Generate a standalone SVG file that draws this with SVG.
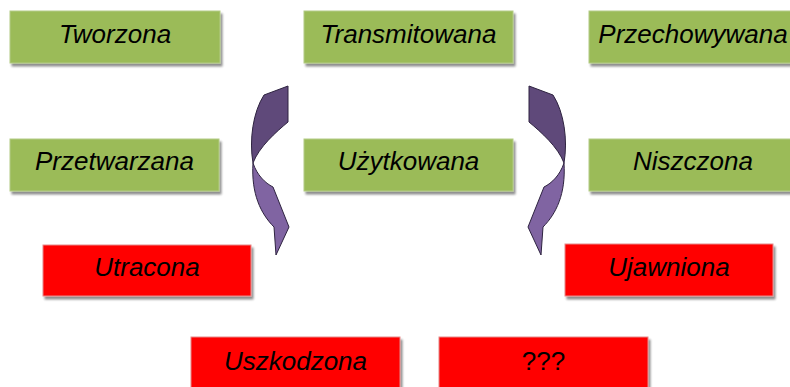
<svg xmlns="http://www.w3.org/2000/svg" width="790" height="387" viewBox="0 0 790 387">
<defs>
<filter id="sh" x="-10%" y="-20%" width="120%" height="150%">
<feGaussianBlur in="SourceAlpha" stdDeviation="1.2"/>
<feOffset dx="2" dy="3" result="b"/>
<feComponentTransfer><feFuncA type="linear" slope="0.45"/></feComponentTransfer>
<feMerge><feMergeNode/><feMergeNode in="SourceGraphic"/></feMerge>
</filter>
</defs>
<style>
.g{fill:#9BBB59;stroke:#B3CB85;stroke-width:1;filter:url(#sh)}
.r{fill:#FF0000;stroke:#E58A8A;stroke-width:1;filter:url(#sh)}
text{font-family:"Liberation Sans",Arial,sans-serif;font-size:26px;font-style:italic;fill:#000;text-anchor:middle}
.dk{fill:#5F497A;stroke:#2E2340;stroke-width:1}
.lt{fill:#8064A2;stroke:#2E2340;stroke-width:1}
</style>
<rect width="790" height="387" fill="#fff"/>
<g id="connectors">
<g id="arrow-left">
<path class="dk" d="M264,95 L288,86 L288,122 C276,132 259,147 253,163 C249,140 253,112 264,95 Z"/>
<path class="lt" d="M253,163 C257,175 265,183 273,187 L289,227 L276,255 L274,227 C261,214 251,194 253,163 Z"/>
</g>
<g id="arrow-right">
<path class="dk" d="M553,95 L529,86 L529,122 C541,132 558,147 564,163 C568,140 564,112 553,95 Z"/>
<path class="lt" d="M564,163 C560,175 552,183 544,187 L528,227 L541,255 L543,227 C556,214 566,194 564,163 Z"/>
</g>
</g>
<g id="tworzona"><rect class="g" x="10" y="11" width="210" height="52"/><text x="115" y="43">Tworzona</text></g>
<g id="transmitowana"><rect class="g" x="304" y="11" width="209" height="52"/><text x="408.5" y="43">Transmitowana</text></g>
<g id="przechowywana"><rect class="g" x="589" y="11" width="209" height="52"/><text x="693" y="43">Przechowywana</text></g>
<g id="przetwarzana"><rect class="g" x="10" y="139" width="209" height="52"/><text x="114.5" y="170">Przetwarzana</text></g>
<g id="uzytkowana"><rect class="g" x="304" y="139" width="209" height="52"/><text x="408.5" y="170">Użytkowana</text></g>
<g id="niszczona"><rect class="g" x="589" y="139" width="209" height="52"/><text x="693" y="170">Niszczona</text></g>
<g id="utracona"><rect class="r" x="43" y="245" width="208" height="51"/><text x="147" y="276">Utracona</text></g>
<g id="ujawniona"><rect class="r" x="565" y="244" width="208" height="52"/><text x="669" y="276">Ujawniona</text></g>
<g id="uszkodzona"><rect class="r" x="191" y="337" width="209" height="54"/><text x="295.5" y="370">Uszkodzona</text></g>
<g id="unknown"><rect class="r" x="439" y="337" width="209" height="54"/><text x="543.5" y="370" style="font-style:normal">???</text></g>
</svg>
